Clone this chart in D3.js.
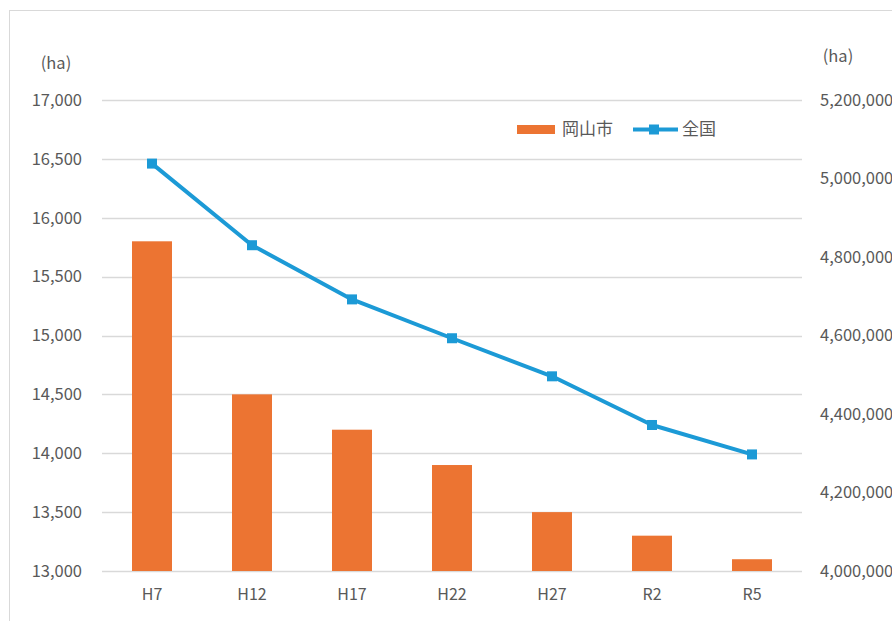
<!DOCTYPE html>
<html>
<head>
<meta charset="utf-8">
<script src="https://cdn.jsdelivr.net/npm/d3@7"></script>
<style>
  html, body { margin: 0; padding: 0; background: #fff; }
  svg { display: block; }
  text { font-family: "Noto Sans CJK JP", "Noto Sans", sans-serif; fill: #595959; }
</style>
</head>
<body>
<svg id="chart" width="892" height="621"></svg>
<script>
// 経営耕地面積の推移 (ha)
const categories = ["H7", "H12", "H17", "H22", "H27", "R2", "R5"];
const okayamaArea = [15800, 14500, 14200, 13900, 13500, 13300, 13100];   // 岡山市 (左軸)
const nationalArea = [5038000, 4830000, 4692000, 4593000, 4496000, 4372000, 4297000]; // 全国 (右軸)
const leftTicks = [13000, 13500, 14000, 14500, 15000, 15500, 16000, 16500, 17000];
const rightTicks = [4000000, 4200000, 4400000, 4600000, 4800000, 5000000, 5200000];
const seriesNames = ["岡山市", "全国"];

const orange = "#EC7432";
const blue = "#1C9AD6";
const grid = "#D9D9D9";

const svg = d3.select("#chart");

// outer frame
svg.append("rect")
  .attr("x", 9.5).attr("y", 10.5)
  .attr("width", 900).attr("height", 700)
  .attr("fill", "none").attr("stroke", grid).attr("stroke-width", 1);

const plot = { left: 102, right: 802, top: 100, bottom: 571 };

const x = d3.scaleBand().domain(categories)
  .range([plot.left, plot.right]).paddingInner(0.6).paddingOuter(0.3);
const yL = d3.scaleLinear().domain([13000, 17000]).range([plot.bottom, plot.top]);
const yR = d3.scaleLinear().domain([4000000, 5200000]).range([plot.bottom, plot.top]);
const fmt = d3.format(",");

// gridlines on left-axis ticks
svg.append("g").selectAll("line").data(leftTicks).join("line")
  .attr("x1", plot.left).attr("x2", plot.right)
  .attr("y1", d => Math.round(yL(d)) + 0.5).attr("y2", d => Math.round(yL(d)) + 0.5)
  .attr("stroke", grid).attr("stroke-width", 1.5);

function styleAxis(g, size) {
  g.select(".domain").remove();
  g.selectAll("text").attr("font-size", size).attr("fill", "#595959")
    .style("font-family", "'Noto Sans CJK JP', sans-serif");
}

// left axis
svg.append("g")
  .attr("transform", `translate(82,0)`)
  .call(d3.axisLeft(yL).tickValues(leftTicks).tickFormat(fmt).tickSize(0).tickPadding(0))
  .call(g => styleAxis(g, 16.5));

// right axis
svg.append("g")
  .attr("transform", `translate(820,0)`)
  .call(d3.axisRight(yR).tickValues(rightTicks).tickFormat(fmt).tickSize(0).tickPadding(0))
  .call(g => styleAxis(g, 16.5));

// bottom axis labels
svg.append("g")
  .attr("transform", `translate(0,${plot.bottom})`)
  .call(d3.axisBottom(x).tickSize(0).tickPadding(18))
  .call(g => styleAxis(g, 16));

// unit labels
svg.append("text").attr("x", 56).attr("y", 69).attr("text-anchor", "middle")
  .attr("font-size", 16.5).text("(ha)");
svg.append("text").attr("x", 838).attr("y", 62).attr("text-anchor", "middle")
  .attr("font-size", 16.5).text("(ha)");

// bars
svg.append("g").selectAll("rect").data(okayamaArea).join("rect")
  .attr("x", (d, i) => x(categories[i]))
  .attr("width", x.bandwidth())
  .attr("y", d => yL(d))
  .attr("height", d => yL(13000) - yL(d))
  .attr("fill", orange);

// national line
const cx = c => x(c) + x.bandwidth() / 2;
const line = d3.line().x((d, i) => cx(categories[i])).y(d => yR(d));
svg.append("path").datum(nationalArea)
  .attr("d", line).attr("fill", "none")
  .attr("stroke", blue).attr("stroke-width", 4).attr("stroke-linejoin", "round");
svg.append("g").selectAll("rect").data(nationalArea).join("rect")
  .attr("x", (d, i) => cx(categories[i]) - 5)
  .attr("y", d => yR(d) - 5)
  .attr("width", 10).attr("height", 10)
  .attr("fill", blue);

// legend
const lg = svg.append("g");
lg.append("rect").attr("x", 517).attr("y", 125).attr("width", 38).attr("height", 9).attr("fill", orange);
lg.append("text").attr("x", 562).attr("y", 135).attr("font-size", 17).text(seriesNames[0]);
lg.append("line").attr("x1", 633).attr("x2", 678).attr("y1", 129.5).attr("y2", 129.5)
  .attr("stroke", blue).attr("stroke-width", 4);
lg.append("rect").attr("x", 649).attr("y", 124.5).attr("width", 10).attr("height", 10).attr("fill", blue);
lg.append("text").attr("x", 682).attr("y", 135).attr("font-size", 17).text(seriesNames[1]);
</script>
</body>
</html>
